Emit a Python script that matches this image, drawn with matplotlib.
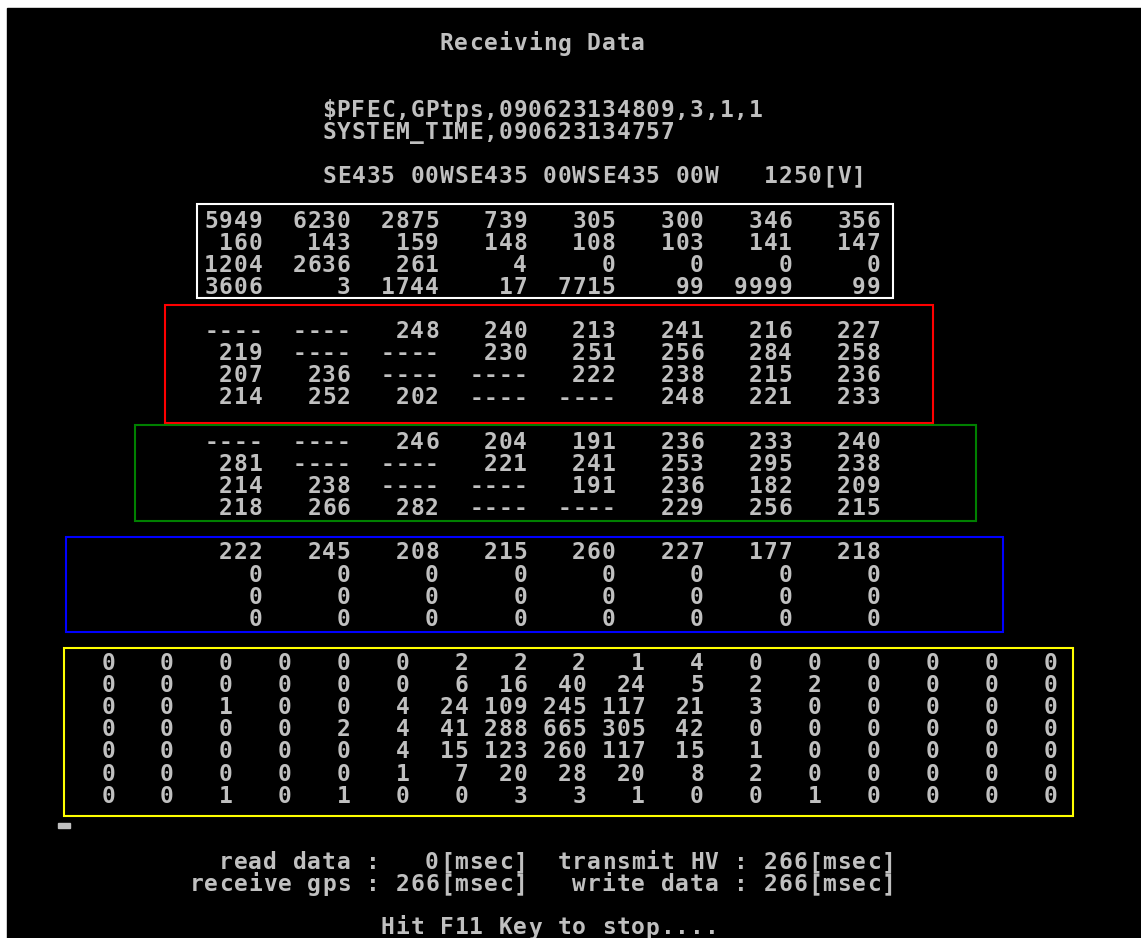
import matplotlib.pyplot as plt
from matplotlib.patches import Rectangle

# ---- data ----
title = "Receiving Data"
gps_line = "$PFEC,GPtps,090623134809,3,1,1"
time_line = "SYSTEM_TIME,090623134757"
status_line = "SE435 00WSE435 00WSE435 00W   1250[V]"

white_rows = [
    [5949, 6230, 2875, 739, 305, 300, 346, 356],
    [160, 143, 159, 148, 108, 103, 141, 147],
    [1204, 2636, 261, 4, 0, 0, 0, 0],
    [3606, 3, 1744, 17, 7715, 99, 9999, 99],
]
# None -> "----" (no value)
red_rows = [
    [None, None, 248, 240, 213, 241, 216, 227],
    [219, None, None, 230, 251, 256, 284, 258],
    [207, 236, None, None, 222, 238, 215, 236],
    [214, 252, 202, None, None, 248, 221, 233],
]
green_rows = [
    [None, None, 246, 204, 191, 236, 233, 240],
    [281, None, None, 221, 241, 253, 295, 238],
    [214, 238, None, None, 191, 236, 182, 209],
    [218, 266, 282, None, None, 229, 256, 215],
]
blue_rows = [
    [222, 245, 208, 215, 260, 227, 177, 218],
    [0, 0, 0, 0, 0, 0, 0, 0],
    [0, 0, 0, 0, 0, 0, 0, 0],
    [0, 0, 0, 0, 0, 0, 0, 0],
]
yellow_rows = [
    [0, 0, 0, 0, 0, 0, 2, 2, 2, 1, 4, 0, 0, 0, 0, 0, 0],
    [0, 0, 0, 0, 0, 0, 6, 16, 40, 24, 5, 2, 2, 0, 0, 0, 0],
    [0, 0, 1, 0, 0, 4, 24, 109, 245, 117, 21, 3, 0, 0, 0, 0, 0],
    [0, 0, 0, 0, 2, 4, 41, 288, 665, 305, 42, 0, 0, 0, 0, 0, 0],
    [0, 0, 0, 0, 0, 4, 15, 123, 260, 117, 15, 1, 0, 0, 0, 0, 0],
    [0, 0, 0, 0, 0, 1, 7, 20, 28, 20, 8, 2, 0, 0, 0, 0, 0],
    [0, 0, 1, 0, 1, 0, 0, 3, 3, 1, 0, 0, 1, 0, 0, 0, 0],
]
timing_lines = [
    "read data :   0[msec]  transmit HV : 266[msec]",
    "receive gps : 266[msec]   write data : 266[msec]",
]
footer = "Hit F11 Key to stop...."

# ---- terminal character grid ----
W, H = 1141, 938
X0, CW = 12.4, 14.72      # left of char column 0, char width (px)
Y0, LH = 50.5, 22.125     # baseline of text line 0, line height (px)
FG = "#c0c0c0"
FONT = dict(family="DejaVu Sans Mono", size=16.5, color=FG, weight="bold")


def cx(col):
    return X0 + col * CW


def by(line):
    return Y0 + line * LH


fig = plt.figure(figsize=(W / 100, H / 100), dpi=100, facecolor="white")
ax = fig.add_axes([0, 0, 1, 1])
ax.set_xlim(0, W)
ax.set_ylim(H, 0)
ax.axis("off")
ax.add_patch(Rectangle((7, 8), W - 7, H - 8, color="black", zorder=0))


def put(col, line, s, dy=0):
    # one glyph per character cell, like a text console
    for i, ch in enumerate(s):
        if ch != " ":
            ax.text(cx(col + i) + CW / 2, by(line) + dy, ch,
                    ha="center", va="baseline", **FONT)


def table(rows, first_line, first_end, width):
    # right-aligned fields, first field ends at char column first_end
    for r, row in enumerate(rows):
        for k, v in enumerate(row):
            s = "----" if v is None else str(v)
            put(first_end + k * width - len(s), first_line + r, s)


put(29, 0, title)
put(21, 3, gps_line)
put(21, 4, time_line)
put(21, 6, status_line)

table(white_rows, 8, 17, 6)
table(red_rows, 13, 17, 6)
table(green_rows, 18, 17, 6)
table(blue_rows, 23, 17, 6)
table(yellow_rows, 28, 7, 4)

put(14, 37, timing_lines[0])
put(12, 38, timing_lines[1])
put(25, 40, footer, dy=-1)

# underline cursor
ax.add_patch(Rectangle((58, 823), 12, 5, color=FG))

# coloured frames
frames = [
    ((197, 204), 696, 94, "white"),
    ((165, 305), 768, 118, "#ff0000"),
    ((135, 425), 841, 96, "#008000"),
    ((66, 537), 937, 95, "#0000ff"),
    ((64, 648), 1009, 168, "#ffff00"),
]
for xy, w, h, c in frames:
    ax.add_patch(Rectangle(xy, w, h, fill=False, edgecolor=c, lw=1.5))

fig.savefig("out.png", dpi=100, facecolor="white")
